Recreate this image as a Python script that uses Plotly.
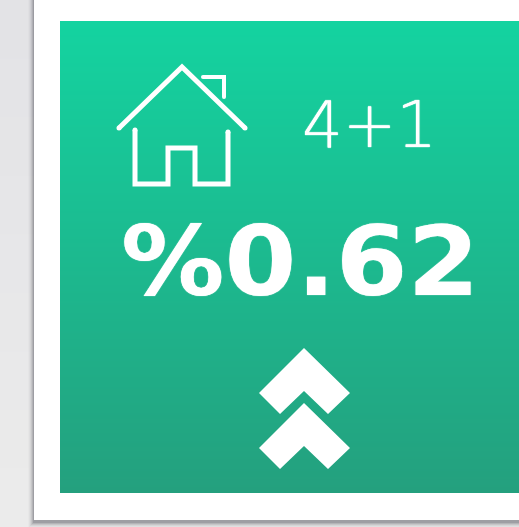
import plotly.graph_objects as go

WIDTH, HEIGHT = 519, 527
ROOMS_LABEL = "4+1"
RATE_LABEL = "%0.62"
PAGE_BANDS = ["#e3e3e6", "#e4e4e7", "#e5e5e7", "#e6e6e8", "#e7e7e9", "#e8e8e9", "#e9e9ea", "#eaeaea", "#ebebeb"]
PANEL_TOP, PANEL_BOTTOM = "#14d3a0", "#24a07e"
PANEL_LEFT, PANEL_TOP_Y, PANEL_BOTTOM_Y = 60, 21, 493

ROOF = [(119, 128), (182, 67), (245, 128)]
CHIMNEY = [(203, 77), (224, 77), (224, 97)]
WALLS = [(135, 130), (135, 184), (168, 184), (168, 148), (195, 148), (195, 184), (228, 184), (228, 132)]
CHEVRON_TOP = [(304, 348), (350, 393), (328, 414), (304, 391), (280, 414), (259, 393)]
CHEVRON_BOTTOM = [(304, 403), (350, 448), (328, 469), (304, 446), (280, 469), (259, 448)]
SHADOW_STEPS = [(6, .02), (5, .04), (4, .06), (3, .09), (2, .13), (1, .18)]


def path(points, close=False):
    s = "M" + " L".join(f"{x},{y}" for x, y in points)
    return s + (" Z" if close else "")


def line_shape(points, width=5):
    return dict(type="path", path=path(points), line=dict(color="white", width=width), layer="above")


def fill_shape(points):
    return dict(type="path", path=path(points, True), fillcolor="white", line=dict(width=0), layer="above")


def cap(x, y, r=2.5):
    return dict(type="circle", x0=x - r, x1=x + r, y0=y - r, y1=y + r, fillcolor="white", line=dict(width=0), layer="above")


shapes = []
band_h = HEIGHT / len(PAGE_BANDS)
for i, c in enumerate(PAGE_BANDS):
    shapes.append(dict(type="rect", x0=0, x1=WIDTH, y0=i * band_h, y1=(i + 1) * band_h + 1,
                       fillcolor=c, line=dict(width=0), layer="below"))
for d, a in SHADOW_STEPS:
    shapes.append(dict(type="rect", x0=34 - d, x1=WIDTH + 5, y0=-5, y1=522 + d,
                       fillcolor=f"rgba(60,60,70,{a})", line=dict(width=0), layer="below"))
shapes.append(dict(type="rect", x0=34, x1=WIDTH + 5, y0=-5, y1=520, fillcolor="white", line=dict(width=0), layer="below"))
shapes += [line_shape(ROOF), line_shape(CHIMNEY, 4), line_shape(WALLS), fill_shape(CHEVRON_TOP), fill_shape(CHEVRON_BOTTOM)]
shapes += [cap(*ROOF[0]), cap(*ROOF[-1]), cap(*WALLS[0]), cap(*WALLS[-1]), cap(*CHIMNEY[0], 2), cap(*CHIMNEY[-1], 2)]

y_edges = list(range(PANEL_TOP_Y, PANEL_BOTTOM_Y + 1, 2))
fig = go.Figure()
fig.add_trace(go.Heatmap(z=[[i] for i in range(len(y_edges) - 1)], x=[PANEL_LEFT, WIDTH + 5], y=y_edges,
                         colorscale=[[0, PANEL_TOP], [1, PANEL_BOTTOM]], showscale=False, hoverinfo="skip"))

fig.add_annotation(x=369.5, y=125, text=ROOMS_LABEL, showarrow=False,
                   font=dict(family="DejaVu Sans", size=64, color="white", weight=200,
                             shadow="0 0 1px white, 0 0 1px white"))
fig.add_annotation(x=300.5, y=261, text=RATE_LABEL, showarrow=False,
                   font=dict(family="DejaVu Sans", size=97, color="white", weight="bold",
                             shadow="0 0 1px white"))

STRETCH_SCRIPT = """
document.body.style.margin='0';document.body.style.overflow='hidden';
var ts=document.querySelectorAll('.annotation-text');
ts.forEach(function(t){ if(t.textContent==='%s'){
  t.setAttribute('lengthAdjust','spacingAndGlyphs');
  t.setAttribute('textLength', String(t.getComputedTextLength()*1.065));
}});
""" % RATE_LABEL

ax = dict(visible=False, fixedrange=True)
fig.update_layout(
    width=WIDTH, height=HEIGHT, margin=dict(l=0, r=0, t=0, b=0), autosize=False,
    paper_bgcolor="#ebebeb", plot_bgcolor="rgba(0,0,0,0)", showlegend=False, shapes=shapes,
    xaxis=dict(range=[0, WIDTH], **ax),
    yaxis=dict(range=[HEIGHT, 0], **ax),
)
fig.write_html("out.html", config=dict(displayModeBar=False), post_script=STRETCH_SCRIPT)
